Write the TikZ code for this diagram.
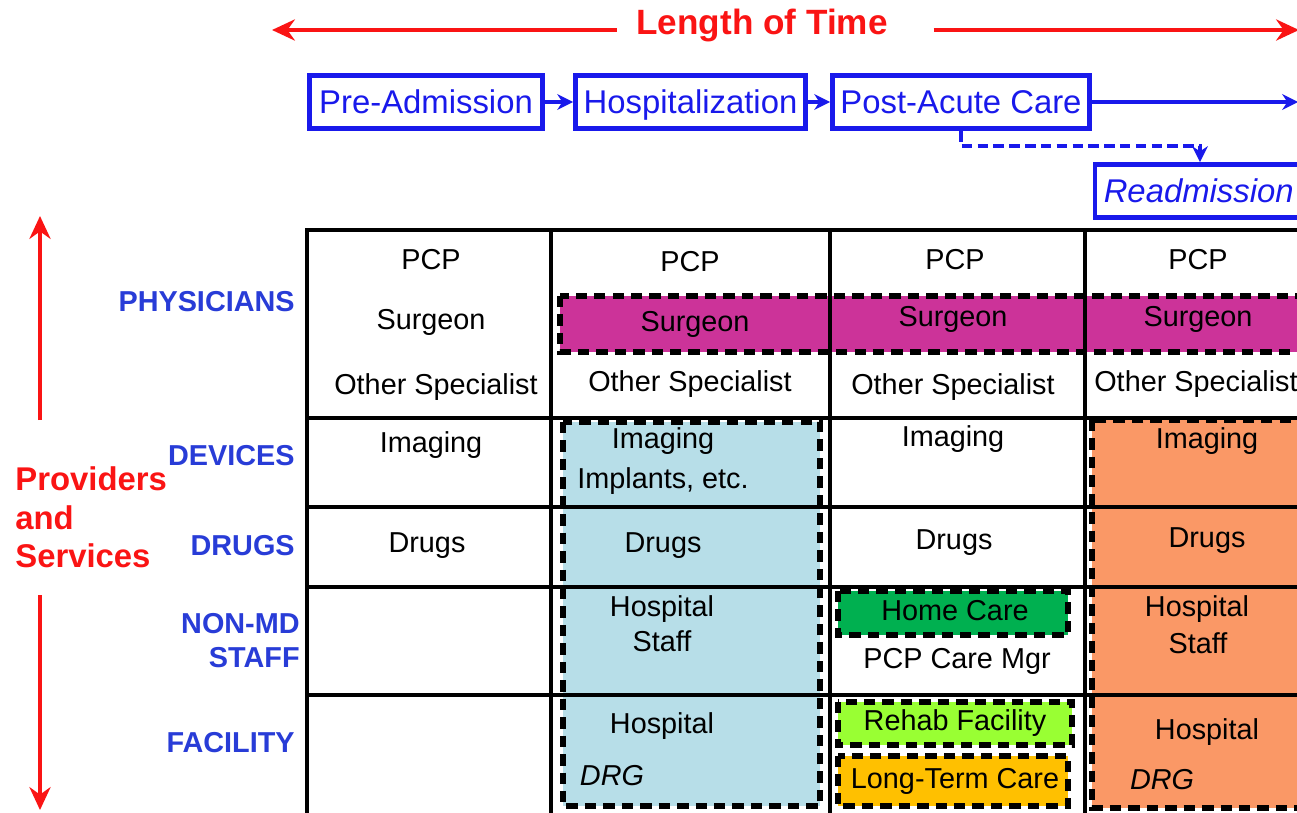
\documentclass[tikz,border=0pt]{standalone}
\usepackage{fontspec}
\setmainfont{Liberation Sans}
\usetikzlibrary{arrows.meta}
\definecolor{phblue}{RGB}{25,25,235}
\definecolor{lblblue}{RGB}{40,60,215}
\definecolor{timered}{RGB}{250,20,20}
\definecolor{surgmag}{RGB}{204,51,153}
\definecolor{hospblue}{RGB}{183,222,232}
\definecolor{readorange}{RGB}{250,152,102}
\definecolor{homegreen}{RGB}{0,176,80}
\definecolor{rehabgreen}{RGB}{153,255,51}
\definecolor{ltcgold}{RGB}{255,192,0}
\tikzset{arrow/.style={draw,-{Stealth[length=9pt,width=9pt]},line width=1.8pt,#1}}
\tikzset{arrow/.default={phblue}}
\tikzset{bigarrow/.style={draw,-{Stealth[length=13pt,width=12pt]},line width=2.6pt,timered}}
\tikzset{phase/.style={draw=phblue,line width=2.8pt,text=phblue,minimum height=1.06cm,inner sep=0pt,text height=13.4pt,text depth=0pt,font={\fontsize{18.7}{22}\selectfont}}}
\tikzset{rowlbl/.style={anchor=east,align=right,text=lblblue,inner sep=0pt,font={\fontsize{16.4}{19.8}\selectfont\bfseries}}}
\tikzset{cell/.style={inner sep=0pt,font={\fontsize{16.4}{20}\selectfont}}}
\tikzset{band/.style={draw=black,line width=3.4pt,dash pattern=on 6.5pt off 4pt}}
\tikzset{grid/.style={draw=black,line width=2.4pt,line cap=rect}}

\begin{document}
\begin{tikzpicture}[x=0.02cm,y=-0.02cm]
    \useasboundingbox (0,0) rectangle (1297,812);
    \clip (0,0) rectangle (1297,812);

    % time axis
    \node[text=timered,inner xsep=11pt,font={\fontsize{20}{24}\selectfont\bfseries}] (lot) at (762,25) {Length of Time};
    \coordinate (tl) at (272,30);
    \coordinate (tr) at (1299,30);
    \draw[bigarrow] (lot.west |- tl) -- (tl);
    \draw[bigarrow] ([xshift=15pt]lot.east |- tr) -- (tr);

    % episode phases
    \node[phase,minimum width=4.66cm] (pre) at (426,102) {Pre-Admission};
    \node[phase,minimum width=4.6cm] (hosp) at (690.5,102) {Hospitalization};
    \node[phase,minimum width=5.14cm] (post) at (961,102) {Post-Acute Care};
    \node[phase,anchor=west,inner xsep=5pt,text width=4.6cm,align=left,font={\fontsize{18.7}{22}\selectfont\itshape}] (readm) at (1092.5,191) {Readmission};
    \coordinate (tend) at (1298,102);
    \draw[arrow] (pre.east) -- (hosp.west);
    \draw[arrow] (hosp.east) -- (post.west);
    \draw[arrow] (post.east) -- (tend);
    \draw[arrow,line width=2pt,dash pattern=on 6pt off 3pt] (post.south) -- ++(0,15) -| ([xshift=2.15cm]readm.north west);

    % providers axis
    \node[anchor=north west,align=left,inner sep=0pt,text=timered,font={\fontsize{18.7}{22.1}\selectfont\bfseries}] (prov) at (15,466) {Providers\\and\\Services};
    \coordinate (vu) at (40,420);
    \coordinate (vt) at (40,216);
    \coordinate (vd) at (40,595);
    \coordinate (vb) at (40,810);
    \draw[bigarrow,line width=2.4pt] (vu) -- (vt);
    \draw[bigarrow,line width=2.4pt] (vd) -- (vb);

    \node[rowlbl] (phys) at (295,302) {PHYSICIANS};
    \node[rowlbl] (dev) at (295,456) {DEVICES};
    \node[rowlbl] (drug) at (295,546) {DRUGS};
    \node[rowlbl] (staff) at (300,640.5) {NON-MD\\STAFF};
    \node[rowlbl] (fac) at (295,743) {FACILITY};

    % shaded groups
    \draw[band,fill=surgmag] (560,296) rectangle (1320,352);
    \draw[band,fill=hospblue] (563,422) rectangle (820,806);
    \draw[band,fill=readorange] (1092,420) rectangle (1320,808);
    \draw[band,fill=homegreen] (838,591) rectangle (1068,635);
    \draw[band,fill=rehabgreen] (838,702) rectangle (1072,745);
    \draw[band,fill=ltcgold] (838,756) rectangle (1068,806);

    % table
    \foreach \x in {307,551,830,1085}
        \draw[grid] (\x,230) -- (\x,820);
    \foreach \y in {230,418,507,587,695}
        \draw[grid] (307,\y) -- (1310,\y);

    \foreach \x/\y/\t [count=\n] in {431/260/PCP, 431/322/Surgeon, 436/387/Other Specialist, 431/445/Imaging, 427/546/Drugs}{
        \node[cell] (pa\n) at (\x,\y) {\t};
    }
    \foreach \x/\y/\t [count=\n] in {690/262/PCP, 695/324/Surgeon, 690/384/Other Specialist, 663/441/Imaging, 663/481/{Implants, etc.}, 663/546/Drugs, 662/609/Hospital, 662/641/Staff, 662/726/Hospital}{
        \node[cell] (ho\n) at (\x,\y) {\t};
    }
    \foreach \x/\y/\t [count=\n] in {955/260/PCP, 953/319/Surgeon, 953/387/Other Specialist, 953/439/Imaging, 954/543/Drugs, 955/611/Home Care, 957/661/PCP Care Mgr, 955/723/Rehab Facility, 955/781/Long-Term Care}{
        \node[cell] (po\n) at (\x,\y) {\t};
    }
    \foreach \x/\y/\t [count=\n] in {1198/260/PCP, 1198/319/Surgeon, 1196/384/Other Specialist, 1207/441/Imaging, 1207/541/Drugs, 1197/609/Hospital, 1198/643/Staff, 1207/732/Hospital}{
        \node[cell] (re\n) at (\x,\y) {\t};
    }
    \node[cell,font={\fontsize{16.4}{20}\selectfont\itshape}] (hodrg) at (612,776) {DRG};
    \node[cell,font={\fontsize{16.4}{20}\selectfont\itshape}] (redrg) at (1162,780) {DRG};
\end{tikzpicture}
\end{document}
